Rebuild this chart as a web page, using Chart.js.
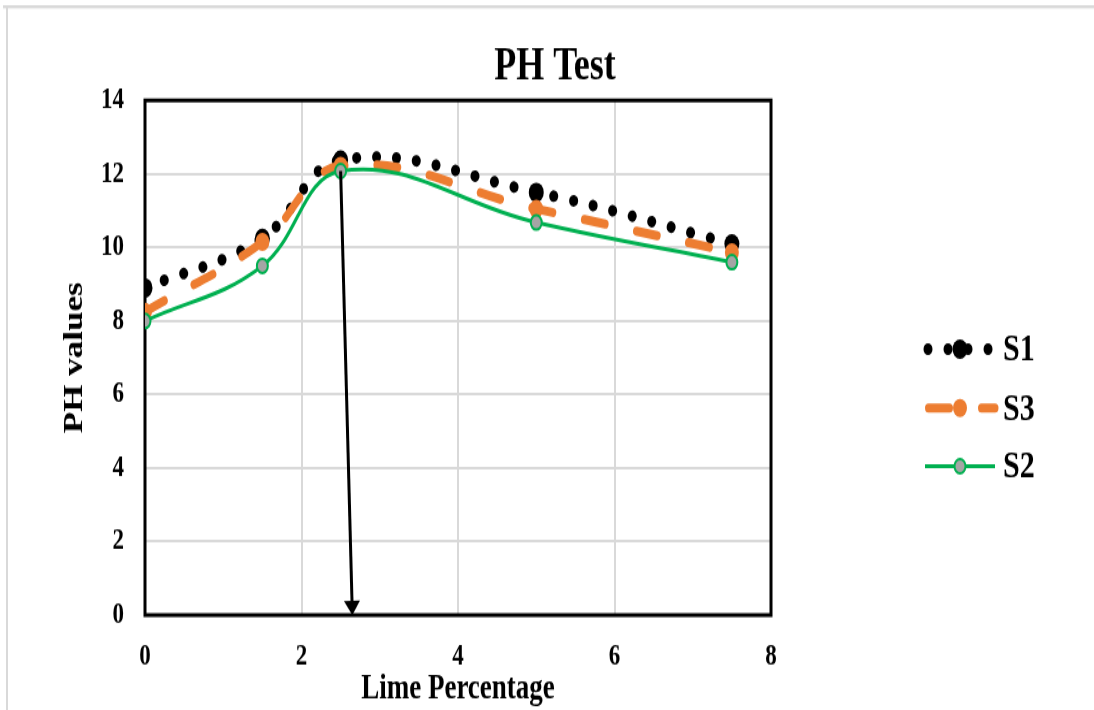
<!DOCTYPE html>
<html><head><meta charset="utf-8">
<script src="https://cdn.jsdelivr.net/npm/chart.js@4.4.1/dist/chart.umd.min.js"></script>
<style>
html,body{margin:0;padding:0;background:#fff;overflow:hidden;}
#wrap{position:absolute;left:0;top:0;width:1094px;height:546px;transform:scaleY(1.3004);transform-origin:0 0;}
canvas{display:block;}
</style></head><body>
<div id="wrap"><canvas id="c" width="1094" height="546" style="width:1094px;height:546px"></canvas></div>
<script>
const xValues = [0, 1.5, 2.5, 5, 7.5];
const s1Values = [8.9, 10.25, 12.38, 11.5, 10.1];
const s3Values = [8.25, 10.15, 12.22, 11.05, 9.87];
const s2Values = [8.0, 9.5, 12.08, 10.68, 9.6];
const seriesNames = ['S1', 'S3', 'S2'];
const xTickValues = [0, 2, 4, 6, 8];
const yTickValues = [0, 2, 4, 6, 8, 10, 12, 14];
const arrowFrom = [2.5, 12.08];
const arrowTo = [2.65, 0];
const chartTitle = 'PH Test';

const FONT = "'Liberation Serif', 'Times New Roman', serif";
const pts = vals => xValues.map((x, i) => ({x: x, y: vals[i]}));

const datasets = [
  {label: seriesNames[0], data: pts(s1Values), borderColor: '#000', borderWidth: 9,
   borderDash: [0.01, 20], borderCapStyle: 'round', pointRadius: 7.5, pointBackgroundColor: '#000',
   pointBorderColor: '#000', pointBorderWidth: 0, tension: 0.4, order: 2},
  {label: seriesNames[1], data: pts(s3Values), borderColor: '#ED7D31', borderWidth: 7,
   borderDash: [21, 32], borderCapStyle: 'round', pointRadius: 7, pointBackgroundColor: '#ED7D31',
   pointBorderColor: '#ED7D31', pointBorderWidth: 0, tension: 0.4, order: 1},
  {label: seriesNames[2], data: pts(s2Values), borderColor: '#00B050', borderWidth: 3,
   pointRadius: 5.5, pointBackgroundColor: '#A5A5A5', pointBorderColor: '#00B050',
   pointBorderWidth: 2, tension: 0.4, order: 0}
];

const decor = {
  id: 'decor',
  beforeDraw(chart) {
    const ctx = chart.ctx;
    ctx.save();
    ctx.fillStyle = '#fff';
    ctx.fillRect(0, 0, chart.width, chart.height);
    ctx.fillStyle = '#d9d9d9';
    ctx.fillRect(3, 4, chart.width - 3, 2.4);
    ctx.fillRect(6, 4, 2, chart.height - 4);
    ctx.fillStyle = '#000';
    ctx.font = 'bold 36px ' + FONT;
    ctx.textAlign = 'center'; ctx.textBaseline = 'middle';
    ctx.fillText(chartTitle, 555, 52);
    ctx.restore();
  },
  beforeDatasetsDraw(chart) {
    const a = chart.chartArea, ctx = chart.ctx;
    ctx.save();
    ctx.strokeStyle = '#000';
    ctx.lineWidth = 3;
    ctx.strokeRect(a.left, a.top, a.right - a.left, a.bottom - a.top);
    ctx.restore();
  },
  afterDatasetsDraw(chart) {
    const ctx = chart.ctx, xs = chart.scales.x, ys = chart.scales.y;
    const x1 = xs.getPixelForValue(arrowFrom[0]), y1 = ys.getPixelForValue(arrowFrom[1]);
    const x2 = xs.getPixelForValue(arrowTo[0]), y2 = ys.getPixelForValue(arrowTo[1]);
    const headH = 11, headW = 8;
    const ang = Math.atan2(y2 - y1, x2 - x1);
    const bx = x2 - headH * Math.cos(ang), by = y2 - headH * Math.sin(ang);
    ctx.save();
    ctx.strokeStyle = '#000'; ctx.fillStyle = '#000'; ctx.lineWidth = 3;
    ctx.beginPath(); ctx.moveTo(x1, y1); ctx.lineTo(bx, by); ctx.stroke();
    ctx.beginPath();
    ctx.moveTo(x2, y2);
    ctx.lineTo(bx + headW * Math.sin(ang), by - headW * Math.cos(ang));
    ctx.lineTo(bx - headW * Math.sin(ang), by + headW * Math.cos(ang));
    ctx.closePath(); ctx.fill();
    ctx.restore();
    const rows = [268.5, 313.8, 358.5];
    ctx.save();
    [0, 1, 2].forEach((di, r) => {
      const ds = chart.data.datasets[di];
      const y = rows[r];
      ctx.save();
      ctx.strokeStyle = ds.borderColor;
      ctx.lineWidth = ds.borderWidth;
      ctx.lineCap = ds.borderCapStyle || 'butt';
      ctx.setLineDash(ds.borderDash || []);
      ctx.lineDashOffset = di === 0 ? -3 : -3.5;
      ctx.beginPath(); ctx.moveTo(925, y); ctx.lineTo(995, y); ctx.stroke();
      ctx.setLineDash([]);
      ctx.beginPath(); ctx.arc(960, y, ds.pointRadius, 0, Math.PI * 2);
      ctx.fillStyle = ds.pointBackgroundColor; ctx.fill();
      if (ds.pointBorderWidth) { ctx.lineWidth = ds.pointBorderWidth; ctx.strokeStyle = ds.pointBorderColor; ctx.stroke(); }
      ctx.restore();
      ctx.fillStyle = '#000';
      ctx.font = 'bold 30px ' + FONT;
      ctx.textAlign = 'left'; ctx.textBaseline = 'middle';
      ctx.fillText(ds.label, 1003, y + 1);
    });
    ctx.restore();
  }
};

new Chart(document.getElementById('c'), {
  type: 'line',
  data: {datasets: datasets},
  options: {
    responsive: false, animation: false, devicePixelRatio: 1,
    layout: {padding: {left: 0, right: 323, top: 77.2, bottom: 0}},
    plugins: {
      legend: {display: false}, tooltip: {enabled: false}, title: {display: false}
    },
    scales: {
      x: {type: 'linear', min: 0, max: 8,
        afterBuildTicks: s => { s.ticks = xTickValues.map(v => ({value: v})); },
        afterFit: s => { s.height = 73; },
        ticks: {color: '#000', font: {family: FONT, size: 23, weight: 'bold'}, padding: 18, maxRotation: 0},
        grid: {color: '#d9d9d9', lineWidth: 2, drawTicks: false},
        border: {display: false},
        title: {display: true, text: 'Lime Percentage', color: '#000',
          font: {family: FONT, size: 27, weight: 'bold'}, padding: {top: 0, bottom: 0}}
      },
      y: {type: 'linear', min: 0, max: 14,
        afterBuildTicks: s => { s.ticks = yTickValues.map(v => ({value: v})); },
        afterFit: s => { s.width = 145; },
        ticks: {color: '#000', font: {family: FONT, size: 23, weight: 'bold'}, padding: 21},
        grid: {color: '#d9d9d9', lineWidth: 2, drawTicks: false},
        border: {display: false},
        title: {display: true, text: 'PH values', color: '#000',
          font: {family: FONT, size: 27, weight: 'bold'}, padding: {top: 59, bottom: 0}}
      }
    }
  },
  plugins: [decor]
});
</script>
</body></html>
